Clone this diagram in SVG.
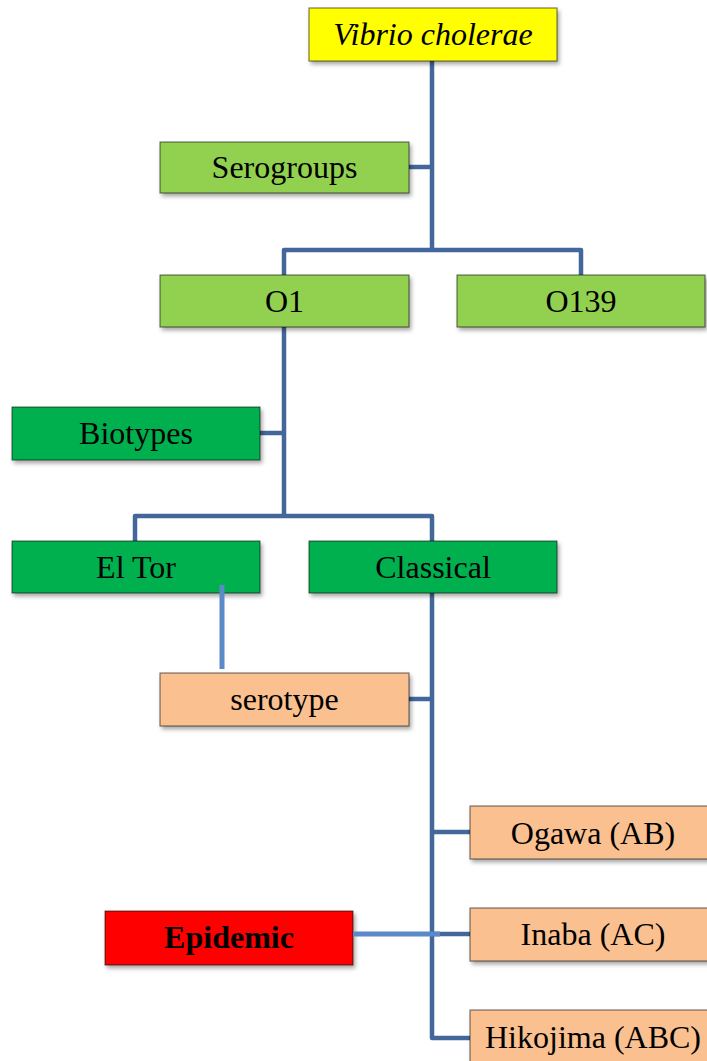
<svg xmlns="http://www.w3.org/2000/svg" width="707" height="1061" viewBox="0 0 707 1061">
<defs>
<filter id="sh" x="-10%" y="-20%" width="125%" height="160%">
<feDropShadow dx="2" dy="3" stdDeviation="2" flood-color="#000" flood-opacity="0.35"/>
</filter>
<style>
.box{stroke:#000;stroke-opacity:.5;stroke-width:1.2;filter:url(#sh)}
.y{fill:#ffff00}
.lg{fill:#92d050}
.g{fill:#00b050}
.p{fill:#fac090}
.r{fill:#ff0000}
text{font-family:"Liberation Serif","Times New Roman",serif;font-size:32px;fill:#000;text-anchor:middle}
.c{fill:none;stroke:#44679b;stroke-width:4.5;stroke-linejoin:round;stroke-linecap:butt}
.c2{fill:none;stroke:#5b8ac8;stroke-width:5;stroke-linecap:butt}
</style>
</defs>
<g id="connectors">
<path class="c" d="M432 61 V250"/>
<path class="c" d="M409 167 H432"/>
<path class="c" d="M284 275 V250 H581 V275"/>
<path class="c" d="M284 327 V516"/>
<path class="c" d="M260 433 H284"/>
<path class="c" d="M135 541 V516 H432 V541"/>
<path class="c" d="M432 593 V1038 H470"/>
<path class="c" d="M409 699 H432"/>
<path class="c" d="M432 832 H470"/>
<path class="c" d="M432 934 H470"/>
</g>
<g id="node-vibrio"><rect class="box y" x="309" y="8" width="248" height="53"/><text x="433" y="45" font-style="italic">Vibrio cholerae</text></g>
<g id="node-serogroups"><rect class="box lg" x="160" y="142" width="249" height="51"/><text x="284.5" y="178">Serogroups</text></g>
<g id="node-o1"><rect class="box lg" x="160" y="275" width="249" height="52"/><text x="284.5" y="312">O1</text></g>
<g id="node-o139"><rect class="box lg" x="457" y="275" width="248" height="52"/><text x="581" y="312">O139</text></g>
<g id="node-biotypes"><rect class="box g" x="12" y="407" width="248" height="53"/><text x="136" y="444">Biotypes</text></g>
<g id="node-eltor"><rect class="box g" x="12" y="541" width="248" height="52"/><text x="136" y="578">El Tor</text></g>
<g id="node-classical"><rect class="box g" x="309" y="541" width="248" height="52"/><text x="433" y="578">Classical</text></g>
<g id="node-serotype"><rect class="box p" x="160" y="673" width="249" height="53"/><text x="284.5" y="710">serotype</text></g>
<g id="node-ogawa"><rect class="box p" x="470" y="806" width="248" height="53"/><text x="593" y="844">Ogawa (AB)</text></g>
<g id="node-inaba"><rect class="box p" x="470" y="908" width="248" height="53"/><text x="593" y="945">Inaba (AC)</text></g>
<g id="node-hikojima"><rect class="box p" x="470" y="1010" width="248" height="53"/><text x="593" y="1048">Hikojima (ABC)</text></g>
<g id="node-epidemic"><rect class="box r" x="105" y="911" width="248" height="54"/><text x="229" y="948" font-weight="bold">Epidemic</text></g>
<g id="connectors-extra">
<path class="c2" d="M222 585 V669"/>
<path class="c2" d="M353 934 H440"/>
</g>
</svg>
